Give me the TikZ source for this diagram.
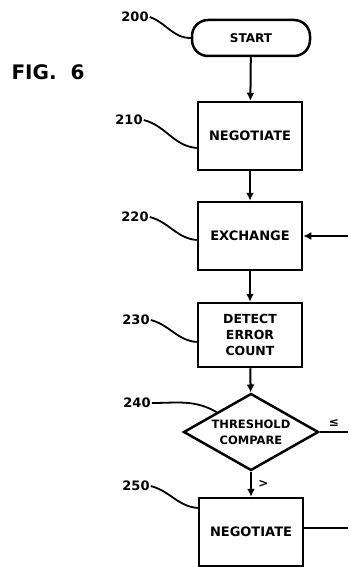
\documentclass[tikz,border=0pt]{standalone}
\usepackage{fontspec}
\setmainfont{DejaVu Sans}
\usetikzlibrary{arrows.meta, shapes.geometric}

\begin{document}
\begin{tikzpicture}[x=1pt, y=-1pt,
  block/.style={draw, line width=2.5pt, minimum width=104pt, minimum height=68pt, align=center, font=\bfseries\fontsize{13}{16}\selectfont},
  term/.style={draw, line width=2.5pt, rounded corners=16pt, minimum width=118pt, minimum height=36pt, font=\bfseries\fontsize{12}{13}\selectfont},
  decide/.style={draw, diamond, line width=2.5pt, aspect=2, inner sep=0pt, minimum width=135pt, minimum height=77pt, align=center, font=\bfseries\fontsize{11.5}{16}\selectfont},
  refnum/.style={font=\bfseries\fontsize{13}{13}\selectfont, inner sep=1pt},
  lead/.style={line width=1.8pt},
  link/.style={line width=2pt},
  flow/.style={line width=2pt, -{Latex[length=8pt,width=8pt]}}
]
\useasboundingbox (0,0) rectangle (348,567);

\node[font=\bfseries\fontsize{20}{20}\selectfont] (fig) at (48,72) {FIG.\ \ 6};

% steps
\node[term] (start) at (251,38) {START};
\node[block] (nego1) at (250,136) {NEGOTIATE};
\node[block] (exch) at (250,236) {EXCHANGE};
\node[block, minimum height=64pt, font=\bfseries\fontsize{12.5}{16}\selectfont] (detect) at (250,335) {DETECT\\ERROR\\COUNT};
\node[decide] (thresh) at (251,432) {THRESHOLD\\COMPARE};
\node[block] (nego2) at (251,532) {NEGOTIATE};

\draw[flow] (start) -- (nego1);
\draw[flow] (nego1) -- (exch);
\draw[flow] (exch) -- (detect);
\draw[flow] (detect) -- (thresh);
\draw[flow] (thresh) -- node[right=3pt, font=\bfseries\fontsize{12}{12}\selectfont] {>} (nego2);

% lines running off the right edge
\coordinate (back) at (348,236);
\coordinate (le) at (348,432);
\coordinate (out) at (348,528);
\draw[flow] (back) -- (exch.east);
\draw[link] (thresh.east) -- node[above=1pt, font=\bfseries\fontsize{12}{12}\selectfont] {≤} (le);
\draw[link] (nego2.east |- out) -- (out);

% reference numerals
\node[refnum] (l200) at (135,17) {200};
\node[refnum] (l210) at (129,120) {210};
\node[refnum] (l220) at (135,217) {220};
\node[refnum] (l230) at (136,320) {230};
\node[refnum] (l240) at (137,403) {240};
\node[refnum] (l250) at (136,486) {250};

\draw[lead] (l200.east) to[out=-20, in=180] (start.west);
\draw[lead] (l210.east) to[out=-15, in=175] ([yshift=-12pt]nego1.west);
\draw[lead] (l220.east) to[out=-15, in=175] ([yshift=-4pt]exch.west);
\draw[lead] (l230.east) to[out=-15, in=175] ([yshift=-7pt]detect.west);
\draw[lead] (l240.east) to[out=0, in=150] (thresh.north west);
\draw[lead] (l250.east) to[out=-15, in=175] ([yshift=24pt]nego2.west);
\end{tikzpicture}
\end{document}
